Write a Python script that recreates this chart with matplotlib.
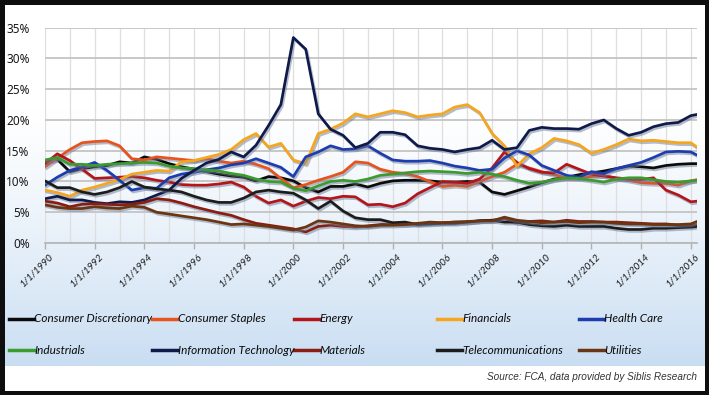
import matplotlib
matplotlib.use("Agg")
import matplotlib.pyplot as plt
import matplotlib.dates as mdates
import matplotlib.patheffects as pe
import matplotlib.transforms as mtrans
from matplotlib.lines import Line2D
from matplotlib.ticker import MultipleLocator, FuncFormatter
import numpy as np
import pandas as pd

# ---------------- data (sector weights, %) ----------------
dates = list(pd.date_range("1990-01-01", "2016-01-01", freq="6MS")) + [pd.Timestamp("2016-04-01")]

sectors = ["Consumer Discretionary", "Consumer Staples", "Energy", "Financials", "Health Care",
           "Industrials", "Information Technology", "Materials", "Telecommunications", "Utilities"]

consumer_discretionary = [13.2, 13.6, 11.6, 12.1, 12.4, 12.6, 13.2, 13.0, 14.0, 13.6,
                          12.9, 12.4, 12.0, 11.6, 11.2, 10.9, 10.7, 10.1, 10.8, 10.6,
                          10.1, 9.0, 8.3, 9.2, 9.2, 9.6, 9.1, 9.7, 10.1, 10.2,
                          10.2, 10.1, 9.9, 9.9, 10.0, 9.9, 8.3, 7.9, 8.5, 9.1,
                          9.8, 10.4, 10.7, 11.1, 11.4, 11.7, 12.1, 12.5, 12.4, 12.2,
                          12.6, 12.8, 12.9, 12.9]
consumer_staples = [12.4, 13.8, 15.2, 16.3, 16.5, 16.6, 15.8, 13.7, 13.5, 14.0,
                    13.8, 13.6, 13.4, 13.7, 13.3, 13.0, 13.3, 12.8, 12.1, 10.5,
                    9.0, 9.5, 10.2, 10.8, 11.5, 13.2, 13.0, 12.0, 11.5, 11.3,
                    10.8, 10.0, 9.2, 9.4, 9.2, 10.0, 10.8, 11.5, 12.8, 12.2,
                    11.6, 11.1, 10.6, 10.6, 10.8, 11.0, 10.5, 10.2, 9.8, 9.7,
                    9.7, 9.4, 10.1, 10.3]
energy = [12.9, 14.5, 13.4, 12.0, 10.5, 10.6, 10.7, 10.8, 10.6, 10.2,
          9.9, 9.5, 9.4, 9.4, 9.6, 9.9, 9.1, 7.6, 6.5, 7.0,
          6.0, 6.8, 7.4, 7.2, 7.6, 7.5, 6.2, 6.3, 5.9, 6.5,
          8.0, 9.0, 10.0, 9.9, 9.7, 10.4, 12.2, 14.8, 13.1, 12.1,
          11.5, 11.4, 12.8, 12.0, 11.2, 10.9, 10.6, 10.4, 10.3, 10.6,
          8.6, 7.8, 6.7, 6.8]
financials = [8.6, 8.2, 7.6, 8.6, 9.1, 9.7, 10.3, 11.2, 11.5, 11.8,
              11.7, 13.2, 13.4, 13.9, 14.4, 15.2, 16.8, 17.8, 15.6, 16.2,
              13.5, 12.9, 17.8, 18.5, 19.5, 21.0, 20.5, 21.0, 21.5, 21.2,
              20.5, 20.8, 21.0, 22.1, 22.5, 21.2, 17.8, 15.8, 12.5, 14.5,
              15.5, 17.0, 16.6, 16.0, 14.6, 15.2, 16.0, 16.9, 16.6, 16.7,
              16.5, 16.3, 16.3, 15.6]
health_care = [9.4, 10.7, 11.8, 12.4, 13.1, 11.8, 10.2, 8.6, 9.0, 8.9,
               10.6, 11.2, 11.5, 11.9, 12.2, 12.7, 13.0, 13.7, 13.0, 12.3,
               10.8, 14.0, 14.8, 15.8, 15.2, 15.3, 15.8, 14.6, 13.5, 13.3,
               13.3, 13.4, 13.0, 12.5, 12.2, 11.8, 12.0, 13.8, 15.0, 14.3,
               12.6, 11.8, 11.0, 10.7, 11.6, 11.3, 12.1, 12.6, 13.1, 13.9,
               14.8, 14.9, 14.8, 14.3]
industrials = [13.5, 13.9, 12.8, 12.8, 12.6, 12.8, 12.9, 13.0, 13.1, 13.0,
               12.5, 12.2, 12.1, 11.9, 11.7, 11.3, 11.0, 10.4, 10.0, 9.9,
               8.9, 8.5, 9.3, 10.0, 10.2, 10.0, 10.4, 11.0, 11.2, 11.4,
               11.6, 11.7, 11.6, 11.5, 11.3, 11.5, 11.2, 10.8, 10.2, 9.7,
               9.9, 10.3, 10.6, 10.5, 10.2, 9.9, 10.4, 10.6, 10.6, 10.3,
               10.0, 9.9, 10.1, 10.2]
information_technology = [7.2, 7.6, 7.0, 7.0, 6.6, 6.4, 6.7, 6.6, 7.0, 7.8,
                          8.6, 10.5, 11.8, 13.0, 13.6, 14.8, 14.0, 15.9, 19.1, 22.5,
                          33.4, 31.5, 21.0, 18.5, 17.5, 15.5, 16.2, 18.0, 18.0, 17.6,
                          15.8, 15.4, 15.2, 14.8, 15.2, 15.5, 16.7, 15.2, 15.5, 18.3,
                          18.8, 18.6, 18.6, 18.5, 19.4, 20.0, 18.6, 17.5, 18.0, 18.9,
                          19.4, 19.6, 20.7, 20.9]
materials = [6.8, 6.5, 5.9, 6.3, 6.4, 6.3, 6.2, 6.3, 6.6, 7.2,
             7.0, 6.5, 5.9, 5.4, 4.9, 4.5, 3.8, 3.2, 2.9, 2.6,
             2.3, 1.8, 2.7, 2.9, 2.7, 2.6, 2.8, 3.0, 3.1, 3.0,
             3.1, 3.2, 3.3, 3.4, 3.4, 3.6, 3.7, 4.0, 3.3, 3.5,
             3.6, 3.4, 3.7, 3.5, 3.5, 3.4, 3.4, 3.3, 3.2, 3.1,
             3.1, 2.9, 2.8, 3.0]
telecommunications = [10.1, 9.0, 9.0, 8.3, 7.9, 8.3, 9.0, 10.0, 9.1, 8.8,
                      8.6, 8.3, 7.6, 7.0, 6.6, 6.6, 7.3, 8.3, 8.6, 8.3,
                      8.1, 7.0, 5.6, 6.8, 5.2, 4.1, 3.8, 3.8, 3.3, 3.4,
                      3.0, 3.1, 3.2, 3.2, 3.4, 3.6, 3.7, 3.4, 3.4, 3.0,
                      2.8, 2.7, 2.9, 2.7, 2.7, 2.7, 2.4, 2.2, 2.2, 2.4,
                      2.4, 2.5, 2.6, 2.7]
utilities = [6.2, 5.8, 5.6, 5.6, 5.9, 5.7, 5.6, 6.0, 5.8, 5.0,
             4.7, 4.4, 4.1, 3.8, 3.4, 3.0, 3.1, 2.9, 2.7, 2.4,
             2.1, 2.6, 3.6, 3.4, 3.1, 2.8, 2.7, 2.9, 2.9, 3.0,
             3.2, 3.4, 3.3, 3.4, 3.5, 3.6, 3.6, 4.2, 3.7, 3.5,
             3.3, 3.4, 3.5, 3.3, 3.4, 3.4, 3.2, 3.1, 3.1, 3.0,
             3.0, 3.0, 3.1, 3.5]

series = [consumer_discretionary, consumer_staples, energy, financials, health_care,
          industrials, information_technology, materials, telecommunications, utilities]
colors = ["#0b0b0b", "#e8521c", "#b3161a", "#f5a61e", "#1d3cae",
          "#3b9b2c", "#0f1a4a", "#8a1c12", "#1c1c1c", "#6a3510"]

source_text = "Source: FCA, data provided by Siblis Research"

# ---------------- figure ----------------
W, H = 709, 395
fig = plt.figure(figsize=(W / 100, H / 100), dpi=100)
fig.patch.set_facecolor("#0e0e0e")


def fx(px):
    return px / W


def fy(py):
    return 1 - py / H


# panel background with gradient
bg = fig.add_axes([fx(5), fy(391), fx(705) - fx(5), fy(5) - fy(391)], zorder=-10)
bg.axis("off")
rows = np.arange(5, 391)
frac = np.clip((rows - 110) / (365 - 110), 0, 1) ** 1.2
frac[rows > 365] = 0
top = np.array([1.0, 1.0, 1.0])
bottom = np.array([0.79, 0.87, 0.95])
img = top[None, :] * (1 - frac[:, None]) + bottom[None, :] * frac[:, None]
bg.imshow(img[:, None, :], aspect="auto", extent=[0, 1, 0, 1], interpolation="bilinear")
bg.set_xlim(0, 1)
bg.set_ylim(0, 1)

# main axes
ax = fig.add_axes([fx(45), fy(243), fx(697) - fx(45), fy(27.7) - fy(243)])
ax.patch.set_alpha(0)
ax.set_xlim(dates[0], dates[-1])
ax.set_ylim(0, 35)

ax.yaxis.set_major_locator(MultipleLocator(5))
ax.yaxis.set_major_formatter(FuncFormatter(lambda v, p: f"{v:.0f}%"))
ax.xaxis.set_major_locator(mdates.YearLocator(2))
ax.xaxis.set_minor_locator(mdates.YearLocator(1))
ax.xaxis.set_major_formatter(FuncFormatter(lambda v, p: "1/1/%d" % mdates.num2date(v).year))

ax.grid(axis="y", color="#c4c4c4", lw=1.3, zorder=0)
ax.grid(axis="x", which="both", color="#dedede", lw=0.9, zorder=0)
ax.set_axisbelow(True)
for s in ["left", "top", "right"]:
    ax.spines[s].set_visible(False)
ax.spines["bottom"].set_color("#b8b8b8")
ax.spines["bottom"].set_linewidth(1.3)

ax.tick_params(axis="y", length=0, pad=11, labelsize=8.5, labelcolor="#1a1a1a")
ax.tick_params(axis="x", which="major", length=4, color="#b0b0b0", width=1, pad=2)
ax.tick_params(axis="x", which="minor", length=0)
for lab in ax.get_yticklabels():
    lab.set_fontfamily(["Noto Sans", "DejaVu Sans"])

narrow = ["Lato", "DejaVu Sans"]
offset = mtrans.ScaledTranslation(4 / 100, 0, fig.dpi_scale_trans)
for lab in ax.get_xticklabels():
    lab.set_fontfamily(narrow)
    lab.set_fontstyle("italic")
    lab.set_fontsize(7.2)
    lab.set_color("#1a1a1a")
    lab.set_rotation(45)
    lab.set_ha("right")
    lab.set_va("top")
    lab.set_rotation_mode("anchor")
    lab.set_transform(lab.get_transform() + offset)

shadow = [pe.SimpleLineShadow(offset=(1.0, -1.4), shadow_color="#6c7c98", alpha=0.5), pe.Normal()]
draw_order = [9, 7, 8, 5, 2, 1, 0, 4, 3, 6]
for i in draw_order:
    ax.plot(dates, series[i], color=colors[i], lw=1.95, solid_joinstyle="round",
            solid_capstyle="round", path_effects=shadow, zorder=3 + i * 0.01)

# legend (manual, uniform columns)
col_x = [9, 152, 294, 437, 579]
row_y = [319, 350]
for k, (name, c) in enumerate(zip(sectors, colors)):
    r, cidx = divmod(k, 5)
    x0, y0 = col_x[cidx], row_y[r]
    fig.add_artist(Line2D([fx(x0), fx(x0 + 25)], [fy(y0), fy(y0)], color=c, lw=2.5,
                          transform=fig.transFigure))
    fig.text(fx(x0 + 25.5), fy(y0), name, ha="left", va="center", fontsize=8.5,
             family=narrow, style="italic", color="#0a0a0a")

fig.text(fx(697), fy(377), source_text, ha="right", va="center", fontsize=7.2,
         family=["Liberation Sans", "DejaVu Sans"], style="italic", color="#333333")

fig.savefig("out.png", dpi=100, facecolor=fig.get_facecolor())
